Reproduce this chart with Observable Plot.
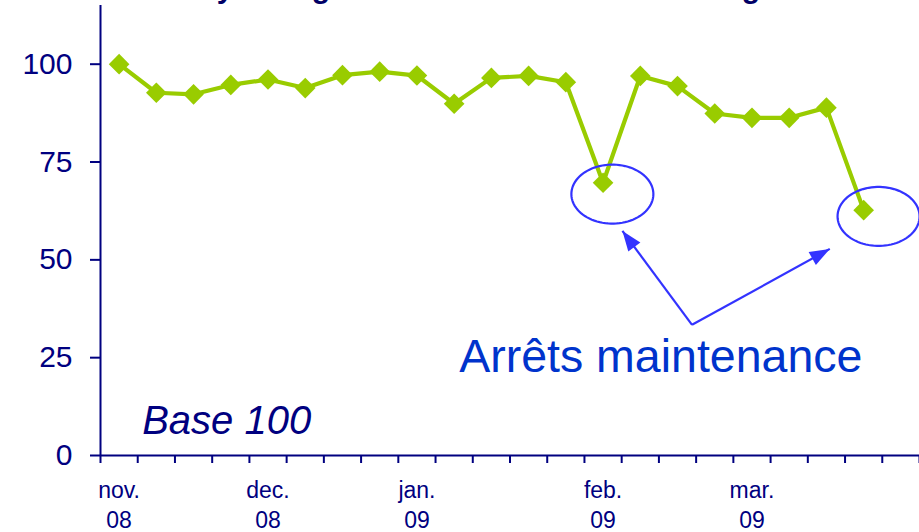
<!DOCTYPE html>
<html>
<head>
<meta charset="utf-8">
<script src="https://cdn.jsdelivr.net/npm/d3@7"></script>
<script src="https://cdn.jsdelivr.net/npm/@observablehq/plot@0.6"></script>
<style>
  html, body { margin: 0; padding: 0; background: white; overflow: hidden; }
  #wrap { position: relative; width: 919px; height: 532px; overflow: hidden; }
  #title { position: absolute; left: 5px; top: -27.5px; font: bold 30px/30px "Liberation Sans", Arial, sans-serif; color: #000066; white-space: nowrap; }
  #chart { position: absolute; left: 0; top: 0; }
</style>
</head>
<body>
<div id="wrap">
  <div id="chart"></div>
  <div id="title">Production moyenne glissante des unités de raffinage</div>
</div>
<script>
// Weekly index values (Base 100), one per week starting early November 2008
const weekIndex = [0,1,2,3,4,5,6,7,8,9,10,11,12,13,14,15,16,17,18,19,20];
const values = [100, 92.7, 92.3, 94.7, 96.1, 93.9, 97.2, 98.1, 97.1, 89.9, 96.5, 97.0, 95.4, 69.7, 97.0, 94.4, 87.4, 86.3, 86.3, 88.9, 62.7];

// Month labels: week index where each month label sits
const monthWeeks = [0, 4, 8, 13, 17];
const monthNames = ["nov.", "dec.", "jan.", "feb.", "mar."];
const monthYears = ["08", "08", "09", "09", "09"];

const yTicks = [0, 25, 50, 75, 100];
const xTicks = [0,1,2,3,4,5,6,7,8,9,10,11,12,13,14,15,16,17,18,19,20,21,22];

// Annotations (data coordinates: x in weeks, y in index units)
const circleX = [13.75, 20.9];
const circleY = [66.8, 61.1];
const arrowFromX = 15.89, arrowFromY = 33.4;
const arrowToX = [14.02, 19.59];
const arrowToY = [57.4, 52.8];
const noteText = "Arrêts maintenance";
const noteX = 15.05, noteY = 21.3;
const baseText = "Base 100";
const baseX = 1.12, baseY = 5.55;

const W = 919, H = 532, mL = 100, mR = 0, mT = 5, mB = 77;
const xDomain = [0, 22], yDomain = [0, 115];

const data = weekIndex.map((w, i) => ({x: w + 0.5, v: values[i]}));
const months = monthWeeks.map((w, i) => ({x: w + 0.5, m: monthNames[i], yr: monthYears[i]}));
const circles = circleX.map((x, i) => ({x, y: circleY[i]}));
const arrows = arrowToX.map((x, i) => ({x1: arrowFromX, y1: arrowFromY, x2: x, y2: arrowToY[i]}));

// helper scales for arrowhead orientation (same as the plot's)
const xs = d3.scaleLinear(xDomain, [mL, W - mR]);
const ys = d3.scaleLinear(yDomain, [H - mB, mT]);

const ellipseSymbol = {
  draw(ctx, size) {
    const r = Math.sqrt(size / Math.PI);
    const rx = r * 41 / 29.5, ry = r;
    const n = 90;
    for (let k = 0; k <= n; k++) {
      const a = 2 * Math.PI * k / n;
      const px = rx * Math.cos(a), py = ry * Math.sin(a);
      if (k === 0) ctx.moveTo(px, py); else ctx.lineTo(px, py);
    }
    ctx.closePath();
  }
};

function headSymbol(angle) {
  return {
    draw(ctx) {
      const L = 20, Wd = 7.5;
      const ux = Math.cos(angle), uy = Math.sin(angle);
      ctx.moveTo(0, 0);
      ctx.lineTo(-L * ux - Wd * uy, -L * uy + Wd * ux);
      ctx.lineTo(-L * ux + Wd * uy, -L * uy - Wd * ux);
      ctx.closePath();
    }
  };
}

const headMarks = arrows.map(a => {
  const ang = Math.atan2(ys(a.y2) - ys(a.y1), xs(a.x2) - xs(a.x1));
  return Plot.dot([a], {x: "x2", y: "y2", r: 5, symbol: headSymbol(ang), fill: "#3333ff", stroke: "none"});
});

const navy = "#000080";
const font = "'Liberation Sans', Arial, sans-serif";

const chart = Plot.plot({
  width: W, height: H,
  marginLeft: mL, marginRight: mR, marginTop: mT, marginBottom: mB,
  style: {background: "white", color: navy, fontFamily: font, fontSize: "30px", overflow: "visible"},
  x: {type: "linear", domain: xDomain},
  y: {domain: yDomain},
  marks: [
    Plot.axisY({ticks: yTicks, tickSize: 10, tickPadding: 18, fontSize: 30, strokeWidth: 2, label: null, tickFormat: d => String(d)}),
    Plot.axisX({ticks: xTicks, tickSize: 8, strokeWidth: 2, label: null, tickFormat: () => ""}),
    Plot.ruleX([0], {stroke: navy, strokeWidth: 2}),
    Plot.ruleY([0], {stroke: navy, strokeWidth: 2}),
    Plot.text(months, {x: "x", y: () => 0, text: "m", fontSize: 23, fill: navy, textAnchor: "middle", lineAnchor: "bottom", dy: 42.3}),
    Plot.text(months, {x: "x", y: () => 0, text: "yr", fontSize: 23, fill: navy, textAnchor: "middle", lineAnchor: "bottom", dy: 72.3}),
    Plot.line(data, {x: "x", y: "v", stroke: "#99cc00", strokeWidth: 4.2}),
    Plot.dot(data, {x: "x", y: "v", symbol: "diamond2", r: 9.3, fill: "#99cc00", stroke: "none"}),
    Plot.dot(circles, {x: "x", y: "y", r: 29.5, symbol: ellipseSymbol, fill: "none", stroke: "#3333ff", strokeWidth: 2.2}),
    Plot.link(arrows, {x1: "x1", y1: "y1", x2: "x2", y2: "y2", stroke: "#3333ff", strokeWidth: 2.2}),
    ...headMarks,
    Plot.text([noteText], {x: () => noteX, y: () => noteY, text: d => d, fontSize: 46.5, fill: "#0033cc", textAnchor: "middle", lineAnchor: "bottom"}),
    Plot.text([baseText], {x: () => baseX, y: () => baseY, text: d => d, fontSize: 40, fontStyle: "italic", fill: navy, textAnchor: "start", lineAnchor: "bottom"})
  ]
});
document.getElementById("chart").appendChild(chart);
</script>
</body>
</html>
